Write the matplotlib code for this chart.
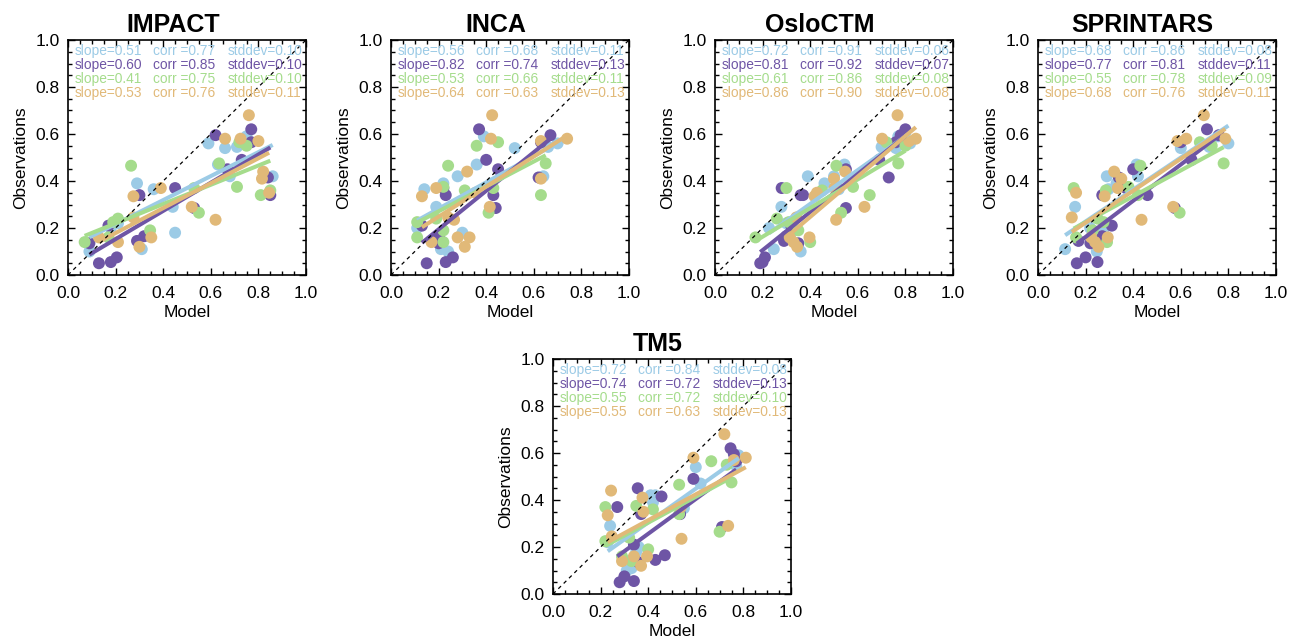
import matplotlib
matplotlib.use("Agg")
import matplotlib.pyplot as plt
import numpy as np

plt.rcParams['font.family'] = ['Liberation Sans', 'DejaVu Sans']

models = ["IMPACT", "INCA", "OsloCTM", "SPRINTARS", "TM5"]
colors = ["#9ccbe6", "#6e55a5", "#a5dc8c", "#e1b978"]

# Observations (shared by all models), one array per data set (colour)
obs_blue = [0.10, 0.11, 0.18, 0.20, 0.22, 0.29, 0.365, 0.39, 0.42, 0.42, 0.47, 0.54, 0.545, 0.56, 0.59]
obs_purple = [0.05, 0.055, 0.075, 0.135, 0.145, 0.165, 0.21, 0.285, 0.34, 0.34, 0.37, 0.415, 0.45, 0.49, 0.565, 0.595, 0.62]
obs_green = [0.14, 0.16, 0.19, 0.225, 0.24, 0.265, 0.34, 0.36, 0.37, 0.375, 0.465, 0.475, 0.55, 0.565]
obs_tan = [0.12, 0.14, 0.16, 0.16, 0.235, 0.245, 0.29, 0.335, 0.35, 0.37, 0.41, 0.44, 0.57, 0.58, 0.58, 0.68]

# Model values per panel
impact_blue = [0.09, 0.31, 0.45, 0.18, 0.21, 0.44, 0.36, 0.29, 0.68, 0.86, 0.63, 0.66, 0.71, 0.59, 0.75]
impact_purple = [0.13, 0.18, 0.205, 0.09, 0.29, 0.32, 0.17, 0.53, 0.30, 0.85, 0.45, 0.84, 0.67, 0.73, 0.77, 0.62, 0.77]
impact_green = [0.07, 0.17, 0.345, 0.19, 0.21, 0.55, 0.81, 0.85, 0.53, 0.71, 0.265, 0.635, 0.75, 0.72]
impact_tan = [0.30, 0.21, 0.13, 0.35, 0.62, 0.275, 0.52, 0.275, 0.845, 0.39, 0.815, 0.82, 0.80, 0.66, 0.725, 0.76]

inca_blue = [0.24, 0.21, 0.30, 0.11, 0.12, 0.19, 0.14, 0.22, 0.28, 0.64, 0.36, 0.52, 0.66, 0.70, 0.39]
inca_purple = [0.15, 0.23, 0.26, 0.20, 0.21, 0.20, 0.13, 0.44, 0.23, 0.43, 0.22, 0.62, 0.45, 0.40, 0.63, 0.67, 0.37]
inca_green = [0.22, 0.11, 0.22, 0.11, 0.19, 0.41, 0.63, 0.31, 0.43, 0.22, 0.24, 0.65, 0.36, 0.45]
inca_tan = [0.31, 0.17, 0.28, 0.33, 0.265, 0.24, 0.415, 0.13, 0.355, 0.19, 0.63, 0.32, 0.63, 0.42, 0.74, 0.425]

oslo_blue = [0.36, 0.247, 0.32, 0.227, 0.30, 0.279, 0.52, 0.46, 0.39, 0.50, 0.544, 0.76, 0.70, 0.82, 0.77]
oslo_purple = [0.19, 0.20, 0.21, 0.35, 0.29, 0.30, 0.32, 0.55, 0.36, 0.37, 0.28, 0.73, 0.55, 0.69, 0.76, 0.78, 0.80]
oslo_green = [0.40, 0.17, 0.35, 0.31, 0.26, 0.53, 0.65, 0.45, 0.30, 0.58, 0.51, 0.77, 0.80, 0.72]
oslo_tan = [0.345, 0.33, 0.314, 0.397, 0.509, 0.342, 0.628, 0.418, 0.428, 0.502, 0.50, 0.547, 0.816, 0.702, 0.844, 0.767]

spr_blue = [0.247, 0.114, 0.275, 0.219, 0.28, 0.156, 0.296, 0.33, 0.289, 0.42, 0.414, 0.60, 0.72, 0.80, 0.756]
spr_purple = [0.163, 0.25, 0.20, 0.22, 0.17, 0.27, 0.31, 0.575, 0.27, 0.46, 0.37, 0.34, 0.40, 0.645, 0.60, 0.76, 0.71]
spr_green = [0.29, 0.16, 0.23, 0.275, 0.25, 0.595, 0.42, 0.285, 0.15, 0.38, 0.43, 0.78, 0.73, 0.68]
spr_tan = [0.254, 0.24, 0.223, 0.293, 0.435, 0.142, 0.568, 0.28, 0.16, 0.335, 0.35, 0.32, 0.586, 0.623, 0.787, 0.697]

tm5_blue = [0.31, 0.33, 0.35, 0.36, 0.23, 0.24, 0.55, 0.42, 0.41, 0.43, 0.62, 0.60, 0.77, 0.76, 0.78]
tm5_purple = [0.28, 0.34, 0.30, 0.36, 0.43, 0.47, 0.34, 0.71, 0.37, 0.534, 0.27, 0.456, 0.356, 0.59, 0.77, 0.76, 0.746]
tm5_green = [0.33, 0.29, 0.40, 0.22, 0.32, 0.70, 0.53, 0.42, 0.22, 0.35, 0.53, 0.75, 0.73, 0.665]
tm5_tan = [0.37, 0.29, 0.34, 0.395, 0.54, 0.247, 0.736, 0.23, 0.38, 0.537, 0.376, 0.244, 0.76, 0.59, 0.81, 0.72]

# Statistics printed in each panel: rows = data sets, values per model
slopes = {
    "IMPACT": [0.51, 0.60, 0.41, 0.53],
    "INCA": [0.56, 0.82, 0.53, 0.64],
    "OsloCTM": [0.72, 0.81, 0.61, 0.86],
    "SPRINTARS": [0.68, 0.77, 0.55, 0.68],
    "TM5": [0.72, 0.74, 0.55, 0.55],
}
corrs = {
    "IMPACT": [0.77, 0.85, 0.75, 0.76],
    "INCA": [0.68, 0.74, 0.66, 0.63],
    "OsloCTM": [0.91, 0.92, 0.86, 0.90],
    "SPRINTARS": [0.86, 0.81, 0.78, 0.76],
    "TM5": [0.84, 0.72, 0.72, 0.63],
}
stddevs = {
    "IMPACT": [0.10, 0.10, 0.10, 0.11],
    "INCA": [0.11, 0.13, 0.11, 0.13],
    "OsloCTM": [0.06, 0.07, 0.08, 0.08],
    "SPRINTARS": [0.08, 0.11, 0.09, 0.11],
    "TM5": [0.08, 0.13, 0.10, 0.13],
}

obs_sets = [obs_blue, obs_purple, obs_green, obs_tan]
model_sets = {
    "IMPACT": [impact_blue, impact_purple, impact_green, impact_tan],
    "INCA": [inca_blue, inca_purple, inca_green, inca_tan],
    "OsloCTM": [oslo_blue, oslo_purple, oslo_green, oslo_tan],
    "SPRINTARS": [spr_blue, spr_purple, spr_green, spr_tan],
    "TM5": [tm5_blue, tm5_purple, tm5_green, tm5_tan],
}

W, H = 1290, 638
fig = plt.figure(figsize=(W / 100, H / 100), dpi=100)

aw, ah = 238, 235
lefts_px = [68, 391, 715, 1038, 553]
tops_px = [40, 40, 40, 40, 359]
ticks = np.arange(0, 1.01, 0.2)

for i, name in enumerate(models):
    l, t = lefts_px[i], tops_px[i]
    ax = fig.add_axes([l / W, 1 - (t + ah) / H, aw / W, ah / H])
    for k in range(4):
        x = np.array(model_sets[name][k])
        y = np.array(obs_sets[k])
        ax.scatter(x, y, s=74, color=colors[k], edgecolors='none', zorder=2)
    for k in range(4):
        x = np.array(model_sets[name][k])
        y = np.array(obs_sets[k])
        sl = slopes[name][k]
        b = y.mean() - sl * x.mean()
        xx = np.array([x.min(), x.max()])
        ax.plot(xx, sl * xx + b, color=colors[k], lw=2.9, zorder=3, solid_capstyle='butt')
    ax.plot([0, 1], [0, 1], color='black', lw=0.9, ls=(0, (3, 3)), zorder=4)

    for k in range(4):
        yy = 0.955 - 0.06 * k
        ax.text(0.03, yy, f"slope={slopes[name][k]:.2f}", color=colors[k], fontsize=9.9,
                va='center', ha='left', transform=ax.transAxes, zorder=5)
        ax.text(0.358, yy, f"corr ={corrs[name][k]:.2f}", color=colors[k], fontsize=9.9,
                va='center', ha='left', transform=ax.transAxes, zorder=5)
        ax.text(0.669, yy, f"stddev={stddevs[name][k]:.2f}", color=colors[k], fontsize=9.9,
                va='center', ha='left', transform=ax.transAxes, zorder=5)

    ax.set_xlim(0, 1)
    ax.set_ylim(0, 1)
    ax.set_xticks(ticks)
    ax.set_yticks(ticks)
    ax.set_xticks(np.arange(0, 1.001, 0.05), minor=True)
    ax.set_yticks(np.arange(0, 1.001, 0.05), minor=True)
    ax.set_xticklabels([f"{v:.1f}" for v in ticks])
    ax.set_yticklabels([f"{v:.1f}" for v in ticks])
    ax.tick_params(which='both', direction='in', top=True, right=True, labelsize=12.5, width=1.0)
    ax.tick_params(which='major', length=5)
    ax.tick_params(which='minor', length=2.7)
    ax.tick_params(axis='x', which='major', pad=8)
    ax.tick_params(axis='y', which='major', pad=6)
    for sp in ax.spines.values():
        sp.set_linewidth(1.2)
    ax.set_xlabel("Model", fontsize=12.5, labelpad=3)
    ax.set_ylabel("Observations", fontsize=12.5, labelpad=5)
    ax.set_title(name, fontsize=18, fontweight='bold', pad=6, x=0.44)

fig.savefig("out.png", dpi=100)
